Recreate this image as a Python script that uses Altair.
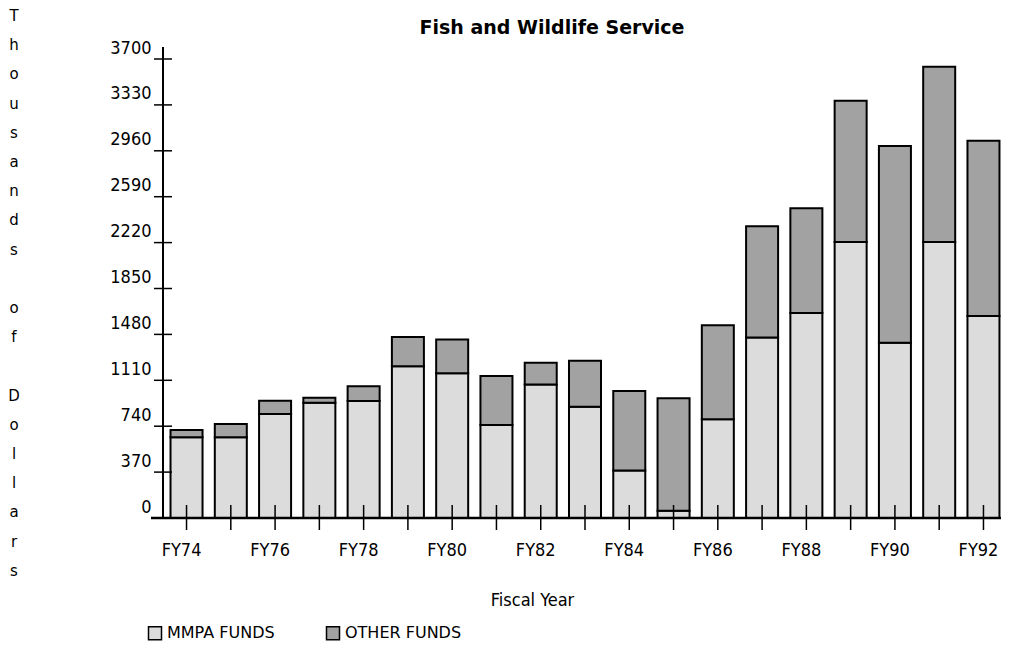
import altair as alt
import pandas as pd

# ---------------- data ----------------
years = ["FY74", "FY75", "FY76", "FY77", "FY78", "FY79", "FY80", "FY81", "FY82", "FY83",
         "FY84", "FY85", "FY86", "FY87", "FY88", "FY89", "FY90", "FY91", "FY92"]
mmpa = [650, 650, 838, 929, 943, 1224, 1166, 750, 1077, 897,
        383, 59, 796, 1455, 1653, 2224, 1412, 2224, 1629]
other = [60, 108, 107, 41, 120, 236, 273, 394, 174, 370,
         640, 906, 758, 897, 844, 1139, 1587, 1413, 1413]
funds = ["MMPA FUNDS", "OTHER FUNDS"]
y_ticks = [0, 370, 740, 1110, 1480, 1850, 2220, 2590, 2960, 3330, 3700]
title_text = "Fish and Wildlife Service"
y_title = "Thousands of Dollars"
x_title = "Fiscal Year"

rows = []
for i, yr in enumerate(years):
    rows.append({"year": yr, "fund": funds[0], "amount": mmpa[i], "ord": 0})
    rows.append({"year": yr, "fund": funds[1], "amount": other[i], "ord": 1})
df = pd.DataFrame(rows)
df_years = pd.DataFrame({"year": years})
df_yt = pd.DataFrame({"amount": y_ticks})
df_one = pd.DataFrame({"t": [title_text]})

# ---------------- style ----------------
W, H = 838, 459
FN = "Liberation Sans Narrow, DejaVu Sans Condensed, Arial Narrow, sans-serif"
FD = "DejaVu Sans, sans-serif"
LINE_H = 29.2
Y_TITLE_TOP = -50

x_scale = alt.Scale(domain=years, range=[0, 844], paddingInner=0.277, paddingOuter=0.17)
y_scale = alt.Scale(domain=[0, 3700], nice=False, zero=True)

x_axis = alt.Axis(
    title=x_title, labelAngle=0, ticks=False, tickSize=0, domain=False, grid=False,
    labelExpr="toNumber(substring(datum.value, 2)) % 2 == 0 ? datum.value : ''",
    labelOverlap=False, labelPadding=32, labelBaseline="middle", labelOffset=-5,
    labelFont=FN, labelFontSize=18, labelColor="black",
    titleFont=FN, titleFontSize=18, titleFontWeight="normal", titleColor="black",
    titleX=369, titleY=82, titleAlign="center", titleBaseline="middle",
)
y_axis = alt.Axis(
    values=y_ticks, format="d", title="",
    ticks=False, tickSize=0, domain=False, grid=False,
    labelPadding=12, labelOffset=-11, labelBaseline="middle", labelFlush=False,
    labelFont=FN, labelFontSize=18, labelColor="black",
)

legend = alt.Legend(
    orient="none", legendX=-16, legendY=566, direction="horizontal", title=None,
    symbolType="square", symbolSize=169, symbolStrokeColor="black", symbolStrokeWidth=1.5,
    symbolOpacity=1, labelFont=FD, labelFontSize=16, labelColor="black",
    labelOffset=4, columnPadding=48, padding=0, labelLimit=0,
)

bars = alt.Chart(df).mark_bar(stroke="black", strokeWidth=2, opacity=1).encode(
    x=alt.X("year:N", scale=x_scale, axis=x_axis),
    y=alt.Y("amount:Q", stack="zero", scale=y_scale, axis=y_axis),
    color=alt.Color("fund:N", scale=alt.Scale(domain=funds, range=["#dcdcdc", "#a2a2a2"]),
                    legend=legend),
    order=alt.Order("ord:Q", sort="ascending"),
)

x_line = alt.Chart(df_one).mark_rule(color="black", strokeWidth=2.5).encode(
    x=alt.value(-12), x2=alt.value(842), y=alt.value(H))
y_line = alt.Chart(df_one).mark_rule(color="black", strokeWidth=2).encode(
    x=alt.value(0), y=alt.value(-12), y2=alt.value(H))
x_ticks = alt.Chart(df_years).mark_rule(color="black", strokeWidth=1.5).encode(
    x=alt.X("year:N", scale=x_scale), y=alt.value(H - 13), y2=alt.value(H + 12))
y_tick_marks = alt.Chart(df_yt).mark_rule(color="black", strokeWidth=1.5).encode(
    y=alt.Y("amount:Q", scale=y_scale), x=alt.value(-9), x2=alt.value(9))
title = alt.Chart(df_one).mark_text(
    font=FD, fontSize=19, fontWeight="bold", align="center", baseline="middle", color="black"
).encode(x=alt.value(389), y=alt.value(-31), text="t:N")

# vertical y-axis title: each word stacked letter by letter, one blank line between words
y_title_layers = []
line_index = 0
for word in y_title.split(" "):
    y_title_layers.append(
        alt.Chart(df_one).mark_text(
            text=list(word), font=FD, fontSize=15, lineHeight=LINE_H,
            align="center", baseline="top", color="black",
        ).encode(x=alt.value(-149), y=alt.value(Y_TITLE_TOP + line_index * LINE_H))
    )
    line_index += len(word) + 1

chart = alt.layer(bars, x_ticks, x_line, y_line, y_tick_marks, title, *y_title_layers).properties(
    width=W, height=H,
    autosize=alt.AutoSizeParams(type="none"),
    padding={"left": 155, "top": 51, "right": 0, "bottom": 123},
    background="white",
).configure_view(stroke="transparent")

chart.save("out.html", embed_options={"renderer": "svg", "actions": False})
